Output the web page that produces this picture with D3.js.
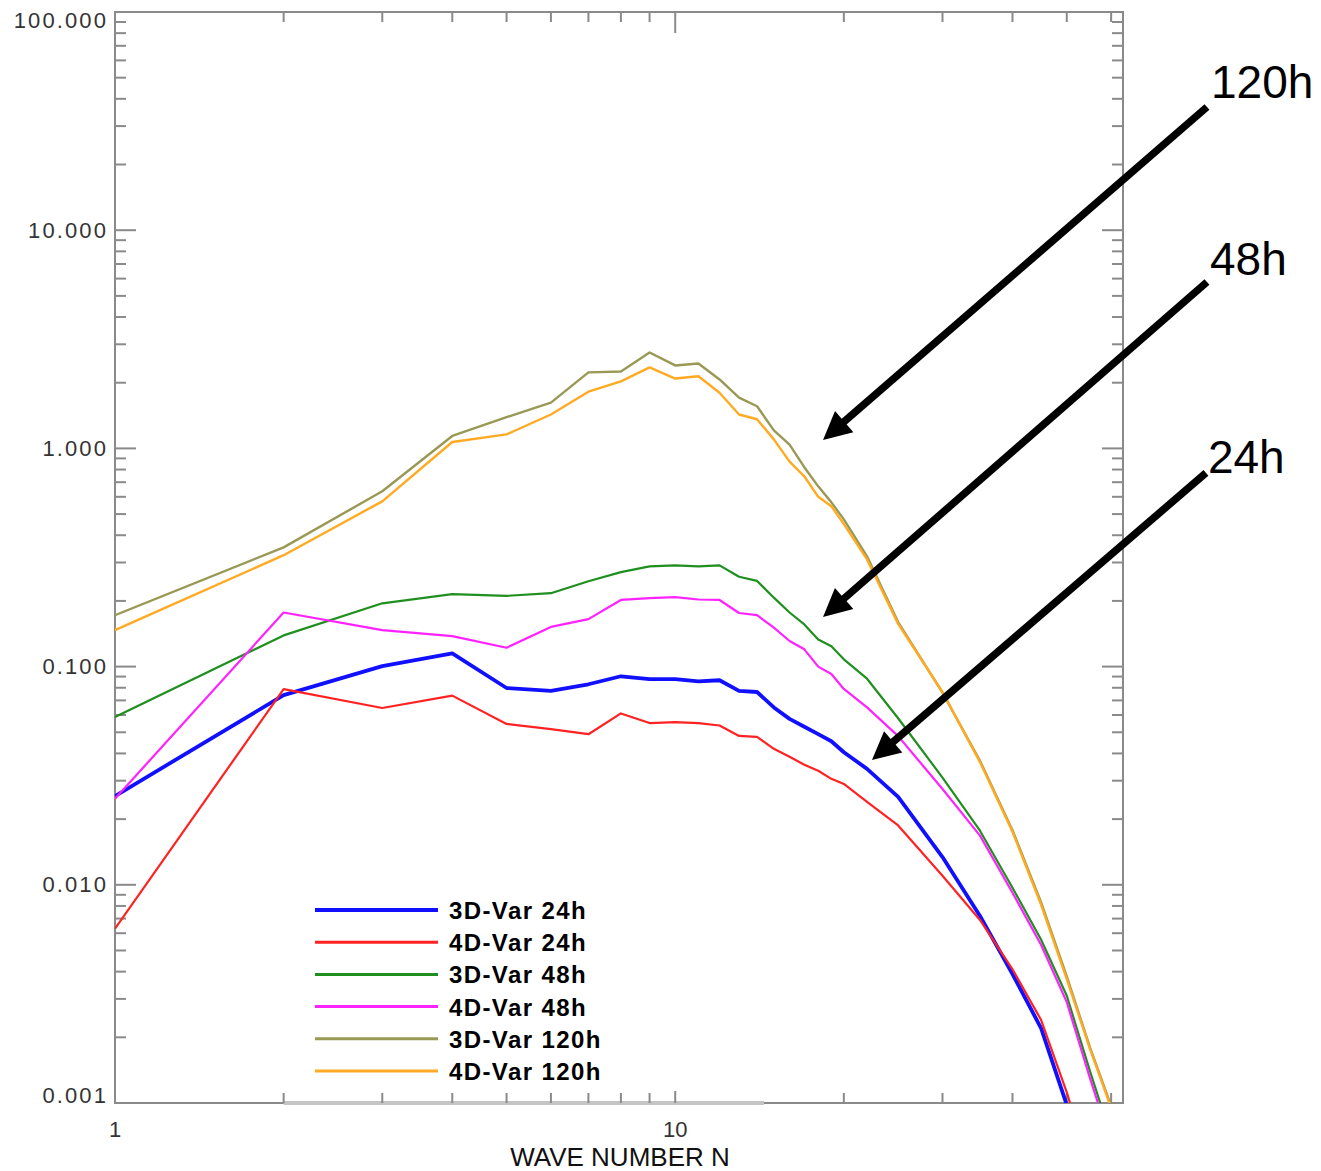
<!DOCTYPE html>
<html>
<head>
<meta charset="utf-8">
<script src="https://cdn.jsdelivr.net/npm/d3@7"></script>
<style>
  html, body { margin: 0; padding: 0; background: #fff; }
  svg { display: block; }
</style>
</head>
<body>
<svg id="chart" width="1321" height="1171"></svg>
<script>
// Spectral error by total wave number N
const waveNumbers = [1,2,3,4,5,6,7,8,9,10,11,12,13,14,15,16,17,18,19,20,22,25,30,35,40,45,50,55,60,63];

const var3d24 = [0.0255,0.074,0.1005,0.115,0.0798,0.0774,0.083,0.0903,0.0877,0.0877,0.0855,0.0866,0.0774,0.0765,0.065,0.0576,0.053,0.049,0.0455,0.0405,0.034,0.0253,0.0134,0.0072,0.0039,0.0022,0.00098,0.0004,0.0002,0.00015];
const var4d24 = [0.0063,0.0789,0.0646,0.0736,0.0546,0.0517,0.049,0.061,0.0551,0.0557,0.0551,0.0537,0.0481,0.0476,0.042,0.0386,0.0355,0.0333,0.0306,0.029,0.024,0.0187,0.011,0.0069,0.0041,0.0024,0.00112,0.0005,0.00025,0.0002];
const var3d48 = [0.0587,0.139,0.195,0.215,0.211,0.217,0.246,0.271,0.288,0.291,0.288,0.291,0.258,0.247,0.207,0.177,0.156,0.133,0.124,0.108,0.088,0.058,0.031,0.0177,0.0097,0.0056,0.0031,0.0014,0.0007,0.0005];
const var4d48 = [0.0248,0.177,0.147,0.138,0.122,0.152,0.165,0.202,0.206,0.208,0.203,0.202,0.176,0.172,0.151,0.131,0.12,0.1,0.0925,0.079,0.065,0.048,0.0275,0.0168,0.0092,0.0053,0.0029,0.0013,0.00065,0.0005];
const var3d120 = [0.172,0.352,0.636,1.14,1.39,1.62,2.23,2.25,2.75,2.40,2.45,2.07,1.71,1.56,1.21,1.04,0.82,0.67,0.566,0.473,0.32,0.16,0.076,0.037,0.0178,0.0083,0.0038,0.0018,0.00097,0.0007];
const var4d120 = [0.147,0.324,0.572,1.07,1.16,1.43,1.82,2.03,2.35,2.09,2.14,1.80,1.43,1.36,1.10,0.87,0.745,0.60,0.543,0.45,0.31,0.157,0.0765,0.0365,0.0175,0.0081,0.0037,0.00177,0.00095,0.0007];

const seriesNames = ["3D-Var 24h","4D-Var 24h","3D-Var 48h","4D-Var 48h","3D-Var 120h","4D-Var 120h"];
const seriesValues = [var3d24, var4d24, var3d48, var4d48, var3d120, var4d120];
const seriesColors = ["#1010ff","#ff2222","#1f8f1f","#ff22ff","#999955","#ffaa22"];
const seriesWidths = [3.8, 2.2, 2.2, 2.2, 2.4, 2.4];

const yTickValues = [100, 10, 1, 0.1, 0.01, 0.001];
const yTickLabels = ["100.000","10.000","1.000","0.100","0.010","0.001"];
const xTickValues = [1, 10];
const xTickLabels = ["1","10"];
const xTitle = "WAVE NUMBER N";

// Forecast-range annotations: arrow tail and head in (wave number, value)
const arrowLabels = ["120h","48h","24h"];
const arrowTails = [[88.97, 36.7],[88.97, 5.79],[88.6, 0.772]];
const arrowHeads = [[18.36, 1.093],[18.36, 0.169],[22.45, 0.0373]];

const svg = d3.select("#chart");
const plotL = 115, plotR = 1123, plotT = 12, plotB = 1103;

const x = d3.scaleLog().domain([1, 63]).range([plotL, plotR]);
const y = d3.scaleLog().domain([0.001, 100]).range([plotB, plotT]);

const axisColor = "#8a8a8a";
const labelColor = "#333";
const fontFam = "'Liberation Sans', Arial, Helvetica, sans-serif";

// Plot frame
svg.append("rect")
  .attr("x", plotL).attr("y", plotT)
  .attr("width", plotR - plotL).attr("height", plotB - plotT)
  .attr("fill", "none").attr("stroke", axisColor).attr("stroke-width", 2);

// Shaded segment on the lower axis
svg.append("rect")
  .attr("x", x(2)).attr("y", plotB - 2)
  .attr("width", x(14.4) - x(2)).attr("height", 4)
  .attr("fill", "#c4c4c4");

// Log minor/major ticks
const yMinor = [];
for (let e = -3; e < 2; e++) for (let m = 2; m <= 9; m++) yMinor.push(m * Math.pow(10, e));
const xMinor = [2,3,4,5,6,7,8,9,20,30,40,50,60];

const ticks = svg.append("g").attr("stroke", axisColor).attr("stroke-width", 2);
yMinor.forEach(v => {
  ticks.append("line").attr("x1", plotL).attr("x2", plotL + 11).attr("y1", y(v)).attr("y2", y(v));
  ticks.append("line").attr("x1", plotR).attr("x2", plotR - 11).attr("y1", y(v)).attr("y2", y(v));
});
yTickValues.forEach(v => {
  ticks.append("line").attr("x1", plotL).attr("x2", plotL + 21).attr("y1", y(v)).attr("y2", y(v));
  ticks.append("line").attr("x1", plotR).attr("x2", plotR - 21).attr("y1", y(v)).attr("y2", y(v));
});
xMinor.forEach(n => {
  ticks.append("line").attr("x1", x(n)).attr("x2", x(n)).attr("y1", plotB).attr("y2", plotB - 10);
  ticks.append("line").attr("x1", x(n)).attr("x2", x(n)).attr("y1", plotT).attr("y2", plotT + 10);
});
ticks.append("line").attr("x1", x(10)).attr("x2", x(10)).attr("y1", plotB).attr("y2", plotB - 12);
ticks.append("line").attr("x1", x(10)).attr("x2", x(10)).attr("y1", plotT).attr("y2", plotT + 21);

// Y tick labels (end labels nudged inside the frame)
yTickValues.forEach((v, i) => {
  let yy = y(v);
  if (i === 0) yy += 8;
  if (i === yTickValues.length - 1) yy -= 8;
  svg.append("text")
    .attr("x", 108).attr("y", yy)
    .attr("text-anchor", "end").attr("dominant-baseline", "central")
    .attr("font-family", fontFam).attr("font-size", 22)
    .attr("letter-spacing", 2.1)
    .attr("fill", labelColor)
    .text(yTickLabels[i]);
});

// X tick labels
xTickValues.forEach((v, i) => {
  svg.append("text")
    .attr("x", x(v)).attr("y", 1137)
    .attr("text-anchor", "middle")
    .attr("font-family", fontFam).attr("font-size", 22)
    .attr("fill", labelColor)
    .text(xTickLabels[i]);
});

svg.append("text")
  .attr("x", 620).attr("y", 1166)
  .attr("text-anchor", "middle")
  .attr("font-family", fontFam).attr("font-size", 26)
  .attr("fill", "#111")
  .text(xTitle);

// Series lines, clipped to the plot area
svg.append("clipPath").attr("id", "plotClip")
  .append("rect").attr("x", plotL).attr("y", plotT)
  .attr("width", plotR - plotL).attr("height", plotB - plotT);

const line = d3.line()
  .x(d => x(d[0]))
  .y(d => y(d[1]));

const lines = svg.append("g").attr("clip-path", "url(#plotClip)");
seriesValues.forEach((vals, i) => {
  lines.append("path")
    .datum(waveNumbers.map((n, j) => [n, vals[j]]))
    .attr("d", line)
    .attr("fill", "none")
    .attr("stroke", seriesColors[i])
    .attr("stroke-width", seriesWidths[i])
    .attr("stroke-linejoin", "round");
});

// Legend
const legend = svg.append("g");
seriesNames.forEach((name, i) => {
  const ly = 910 + i * 32.2;
  legend.append("line")
    .attr("x1", 315).attr("x2", 438).attr("y1", ly).attr("y2", ly)
    .attr("stroke", seriesColors[i])
    .attr("stroke-width", i === 0 ? 3.8 : 3);
  legend.append("text")
    .attr("x", 449).attr("y", ly + 9)
    .attr("font-family", fontFam).attr("font-size", 24)
    .attr("font-weight", "bold").attr("letter-spacing", 1.4)
    .attr("fill", "#000")
    .text(name);
});

// Annotation arrows with forecast-range labels
const ann = svg.append("g");
const labelOffsets = [[4, -9], [3, -7], [2, 0]];
arrowLabels.forEach((lab, i) => {
  const x0 = x(arrowTails[i][0]), y0 = y(arrowTails[i][1]);
  const x1 = x(arrowHeads[i][0]), y1 = y(arrowHeads[i][1]);
  const dx = x1 - x0, dy = y1 - y0, len = Math.hypot(dx, dy);
  const ux = dx / len, uy = dy / len;
  const headLen = 28, headHalf = 14;
  const bx = x1 - ux * headLen, by = y1 - uy * headLen;
  ann.append("line")
    .attr("x1", x0).attr("y1", y0).attr("x2", bx + ux * 2).attr("y2", by + uy * 2)
    .attr("stroke", "#000").attr("stroke-width", 7.5);
  ann.append("path")
    .attr("d", `M${x1},${y1} L${bx - uy * headHalf},${by + ux * headHalf} L${bx + uy * headHalf},${by - ux * headHalf} Z`)
    .attr("fill", "#000");
  ann.append("text")
    .attr("x", x0 + labelOffsets[i][0]).attr("y", y0 + labelOffsets[i][1])
    .attr("font-family", fontFam).attr("font-size", 46)
    .attr("fill", "#000")
    .text(lab);
});
</script>
</body>
</html>
